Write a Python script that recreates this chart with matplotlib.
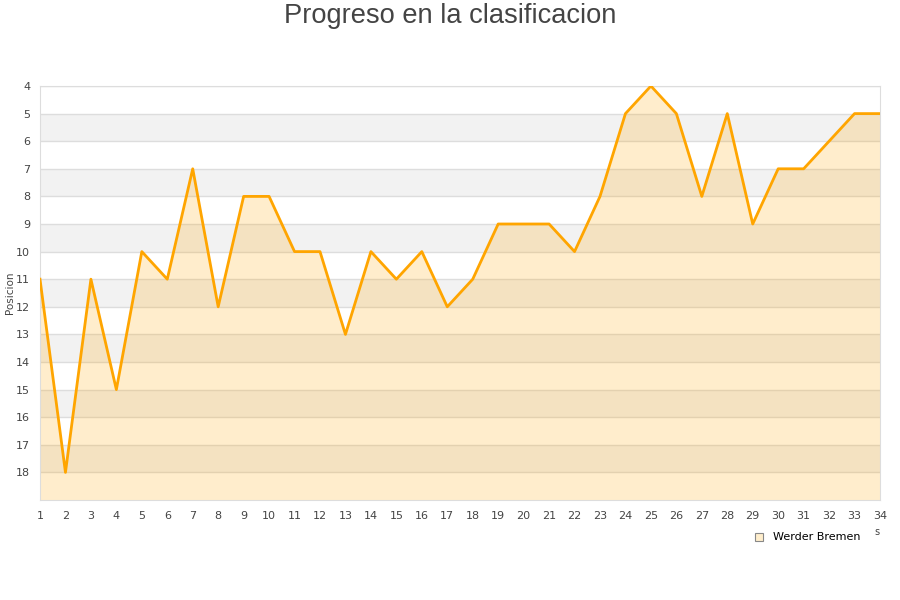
import matplotlib.pyplot as plt
from matplotlib.patches import Rectangle

# league position per matchday
jornadas = list(range(1, 35))
posicion = [11, 18, 11, 15, 10, 11, 7, 12, 8, 8, 10, 10, 13, 10, 11, 10, 12, 11,
            9, 9, 9, 10, 8, 5, 4, 5, 8, 5, 9, 7, 7, 6, 5, 5]
equipo = 'Werder Bremen'
y_ticks = list(range(4, 19))

fig = plt.figure(figsize=(9, 6), dpi=100)
ax = fig.add_axes([40 / 900, 100 / 600, 840 / 900, 414 / 600])

# alternating horizontal bands
for lo in range(4, 19):
    color = '#f2f2f2' if lo % 2 == 1 else 'white'
    ax.axhspan(lo, lo + 1, color=color, zorder=0, lw=0)
for t in y_ticks:
    ax.axhline(t, color='#dddddd', lw=1, zorder=1)

ax.fill_between(jornadas, posicion, 19, color='#ffa500', alpha=0.2, lw=0, zorder=2)
ax.plot(jornadas, posicion, color='#ffa500', lw=2, zorder=3)

ax.set_xlim(1, 34)
ax.set_ylim(19, 4)
ax.set_xticks(jornadas)
ax.set_yticks(y_ticks)
ax.tick_params(length=0, labelsize=8, colors='#444444')
ax.tick_params(axis='x', pad=8)
ax.tick_params(axis='y', pad=7)
for s in ax.spines.values():
    s.set_color('#dddddd')

fig.text(10 / 900, 1 - 293 / 600, 'Posicion', rotation=90, ha='center', va='center',
         fontsize=7.5, color='#444444')

fig.text(0.5, 1 - 16 / 600, 'Progreso en la clasificacion', ha='center', va='center',
         fontsize=19.6, color='#444444', family='Liberation Sans')

# legend
fig.patches.append(Rectangle((755 / 900, 1 - 541 / 600), 8 / 900, 8 / 600,
                             transform=fig.transFigure, facecolor='#ffeecc',
                             edgecolor='#888888', lw=0.8))
fig.text(773 / 900, 1 - 537 / 600, equipo, fontsize=8, va='center', color='black')
fig.text(874 / 900, 1 - 532 / 600, 's', fontsize=7, va='center', color='#444444')

fig.savefig('out.png', dpi=100)
